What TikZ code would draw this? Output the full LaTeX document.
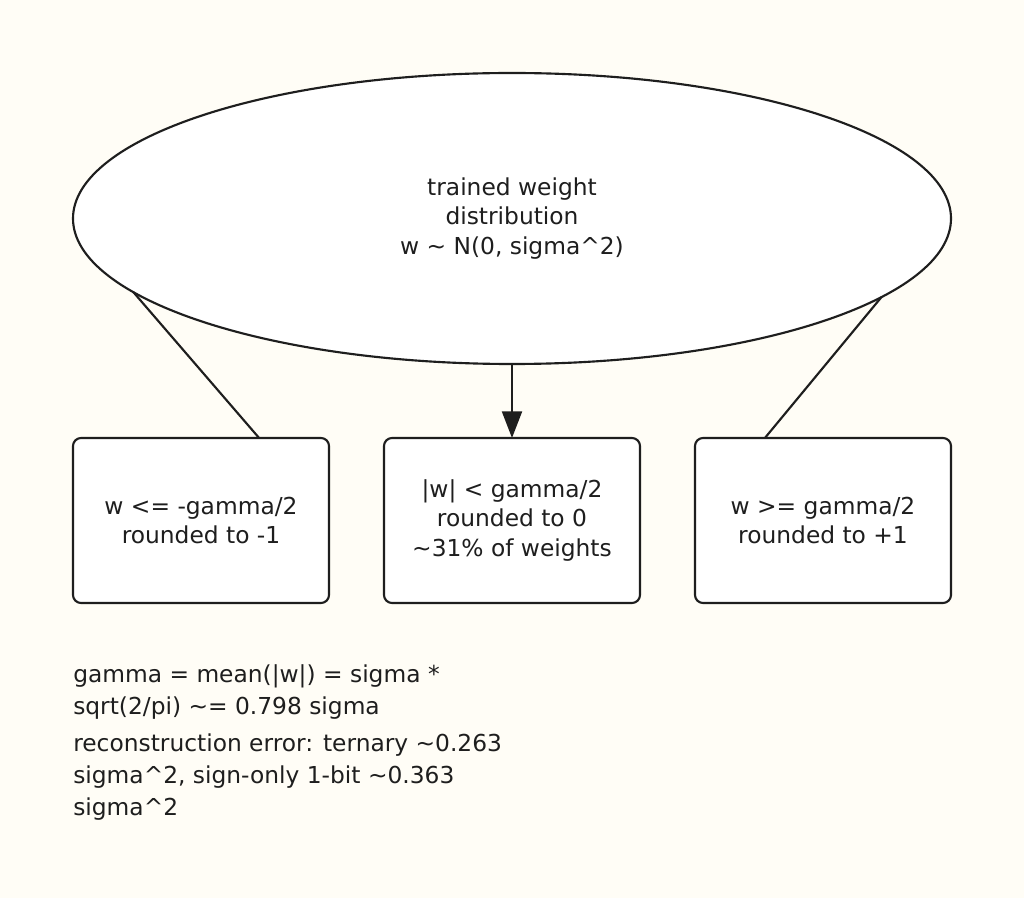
\documentclass[tikz,border=0pt]{standalone}
\usepackage{fontspec}
\setmainfont{DejaVu Sans}
\usetikzlibrary{shapes.geometric,arrows.meta,calc}
\definecolor{bgc}{HTML}{FFFDF6}
\definecolor{ink}{HTML}{1E1E1E}
\begin{document}
\begin{tikzpicture}[x=0.75pt,y=-0.75pt,
  every node/.style={font=\fontsize{17.5pt}{22pt}\selectfont, text=ink},
  dist/.style={ellipse, draw=ink, line width=1.6pt, fill=white, minimum width=658.5pt, minimum height=218.25pt, inner sep=0pt, outer sep=0pt, align=center},
  bucket/.style={draw=ink, line width=1.6pt, fill=white, rounded corners=6pt, minimum width=192pt, minimum height=123.75pt, inner sep=0pt, outer sep=0pt, align=center},
  link/.style={draw=ink, line width=1.6pt},
  note/.style={anchor=base west, align=left, inner sep=0pt, font=\fontsize{17.5pt}{24pt}\selectfont}
]
\fill[bgc] (0,0) rectangle (1024,898);
\useasboundingbox (0,0) rectangle (1024,898);
\node[dist] (ell) at (512,218.5) {trained weight\\distribution\\w \textasciitilde{} N(0, sigma\textasciicircum{}2)};
\node[bucket] (neg) at (201,520.5) {w <= -gamma/2\\rounded to -1};
\node[bucket] (zero) at (512,520.5) {|w| < gamma/2\\rounded to 0\\\textasciitilde{}31\% of weights};
\node[bucket] (pos) at (823,520.5) {w >= gamma/2\\rounded to +1};
\draw[link] (ell.191.9) -- ($(neg.north west)!0.727!(neg.north east)$);
\draw[link] (ell.348.1) -- ($(pos.north west)!0.273!(pos.north east)$);
\draw[link, -{Triangle[length=20pt,width=15pt]}] (ell.south) -- (zero.north);
\node[note] (n1) at (73,714) {gamma = mean(|w|) = sigma *\\sqrt(2/pi) \textasciitilde{}= 0.798 sigma};
\node[note] (n2) at (73,815) {reconstruction error: ternary \textasciitilde{}0.263\\sigma\textasciicircum{}2, sign-only 1-bit \textasciitilde{}0.363\\sigma\textasciicircum{}2};
\end{tikzpicture}
\end{document}
